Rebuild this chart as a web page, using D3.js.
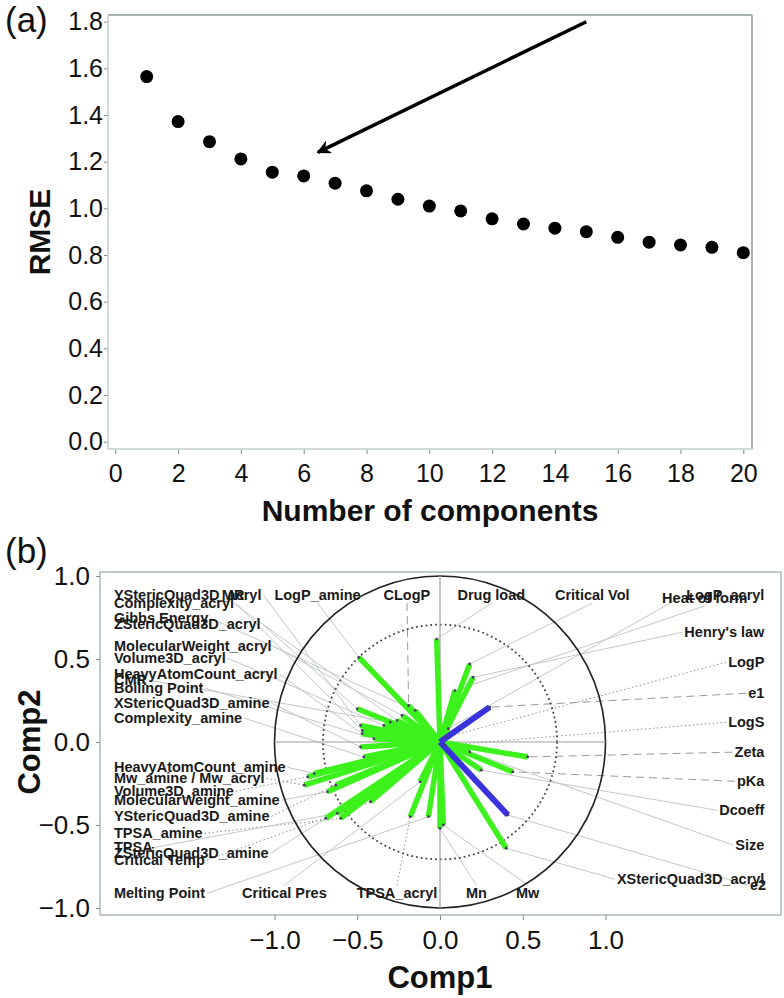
<!DOCTYPE html>
<html>
<head>
<meta charset="utf-8">
<title>RMSE e loadings</title>
<script src="https://d3js.org/d3.v7.min.js"></script>
<style>
  body { margin: 0; background: #fff; }
  text { font-family: "Liberation Sans", Arial, sans-serif; fill: #111; }
</style>
</head>
<body>
<svg id="chart" width="784" height="998"></svg>
<script type="text/javascript">
"use strict"

// ---- (a) RMSE by number of components
var components = d3.range(1, 21);
var rmse = [1.565, 1.372, 1.286, 1.212, 1.155, 1.139, 1.108, 1.075, 1.039, 1.010,
            0.989, 0.955, 0.933, 0.915, 0.900, 0.876, 0.855, 0.843, 0.833, 0.810];
var ticksAx = [0, 2, 4, 6, 8, 10, 12, 14, 16, 18, 20];
var ticksAy = [0, 0.2, 0.4, 0.6, 0.8, 1.0, 1.2, 1.4, 1.6, 1.8];
var arrowFrom = [15, 1.8], arrowTo = [6.45, 1.24];

// ---- (b) loadings plot (Comp1, Comp2)
var variables = ["YStericQuad3D_acryl", "Complexity_acryl", "MR", "LogP_amine", "CLogP",
  "Gibbs Energy", "ZStericQuad3D_acryl", "MolecularWeight_acryl", "Volume3D_acryl",
  "HeavyAtomCount_acryl", "CMR", "Boiling Point", "XStericQuad3D_amine", "Complexity_amine",
  "HeavyAtomCount_amine", "Mw_amine / Mw_acryl", "Volume3D_amine", "MolecularWeight_amine",
  "YStericQuad3D_amine", "TPSA_amine", "TPSA", "ZStericQuad3D_amine", "Critical Temp",
  "Melting Point", "Critical Pres", "TPSA_acryl", "Mn", "Mw", "Drug load", "Critical Vol",
  "Heat of form", "LogP_acryl", "Henry's law", "LogP", "e1", "LogS", "Zeta", "pKa",
  "Dcoeff", "Size", "XStericQuad3D_acryl", "e2"];
var comp1 = [-0.48, -0.47, -0.26, -0.49, -0.19, -0.15, -0.50, -0.23, -0.34, -0.47, -0.30, -0.40,
  -0.48, -0.46, -0.76, -0.82, -0.80, -0.68, -0.63, -0.60, -0.62, -0.69, -0.42, -0.07, -0.12,
  -0.18, 0.00, 0.02, -0.02, 0.18, 0.09, 0.05, 0.20, 0.04, 0.30, 0.03, 0.53, 0.44, 0.25, 0.18,
  0.40, 0.41];
var comp2 = [0.10, 0.07, 0.13, 0.51, 0.22, 0.19, 0.20, 0.16, 0.10, 0.05, 0.12, 0.02, -0.03,
  -0.09, -0.19, -0.26, -0.21, -0.30, -0.26, -0.46, -0.43, -0.46, -0.36, -0.45, -0.24, -0.45,
  -0.52, -0.50, 0.62, 0.47, 0.31, 0.08, 0.39, 0.03, 0.21, -0.02, -0.09, -0.18, -0.17, -0.06,
  -0.64, -0.44];
// label anchors, in Comp1/Comp2 units
var labelX = [-1.97, -1.97, -1.25, -0.74, -0.20, -1.97, -1.97, -1.97, -1.97, -1.97, -1.97, -1.97,
  -1.97, -1.97, -1.97, -1.97, -1.97, -1.97, -1.97, -1.97, -1.97, -1.97, -1.97, -1.97, -0.94,
  -0.26, 0.22, 0.53, 0.31, 0.92, 1.60, 1.96, 1.96, 1.96, 1.96, 1.96, 1.96, 1.96, 1.96, 1.96,
  1.96, 1.97];
var labelY = [0.886, 0.837, 0.886, 0.886, 0.886, 0.747, 0.711, 0.578, 0.506, 0.410, 0.373, 0.325,
  0.235, 0.145, -0.151, -0.217, -0.295, -0.349, -0.446, -0.548, -0.633, -0.669, -0.711, -0.910,
  -0.910, -0.910, -0.910, -0.910, 0.886, 0.886, 0.870, 0.886, 0.663, 0.482, 0.295, 0.120,
  -0.060, -0.235, -0.410, -0.620, -0.825, -0.861];
var responses = ["e1", "e2"];
var dashedLeaders = ["CLogP", "e1", "Zeta", "pKa"];
var dottedLeaders = ["LogP", "LogS", "Mw_amine / Mw_acryl", "Volume3D_amine",
  "YStericQuad3D_amine", "TPSA_amine", "TPSA_acryl", "Critical Temp"];
var ticksB = [-1.0, -0.5, 0.0, 0.5, 1.0];

var svg = d3.select("#chart");
var fmt = d3.format(".1f");

/*
 * painel (a)
 */
var boxA = {left: 108, right: 752, top: 15, bottom: 449};
var xA = d3.scaleLinear().domain([0, 20]).range([115.3, 743.3]);
var yA = d3.scaleLinear().domain([0, 1.8]).range([441.7, 21.7]);

var gA = svg.append("g");

gA.append("line").attr("x1", boxA.left).attr("x2", boxA.right)
    .attr("y1", boxA.top).attr("y2", boxA.top)
    .style("stroke", "#8c9a9a").style("stroke-width", 1.5);
gA.append("line").attr("x1", boxA.right).attr("x2", boxA.right)
    .attr("y1", boxA.top).attr("y2", boxA.bottom)
    .style("stroke", "#8c9a9a").style("stroke-width", 1.5);

var axAy = gA.append("g")
    .attr("transform", "translate(" + boxA.left + ",0)")
    .call(d3.axisLeft(yA).tickValues(ticksAy).tickFormat(fmt).tickSize(4).tickPadding(1));
var axAx = gA.append("g")
    .attr("transform", "translate(0," + boxA.bottom + ")")
    .call(d3.axisBottom(xA).tickValues(ticksAx).tickSize(5).tickPadding(10));
[axAy, axAx].forEach(function(ax) {
  ax.select(".domain").remove();
  ax.selectAll("line").style("stroke", "#7d8c8c");
  ax.selectAll("text").style("font-size", "25px").style("fill", "#111").style("font-family", null);
});
gA.append("line").attr("x1", boxA.left).attr("x2", boxA.left)
    .attr("y1", boxA.top).attr("y2", boxA.bottom)
    .style("stroke", "#c3cfcf").style("stroke-width", 1.5);
gA.append("line").attr("x1", boxA.left).attr("x2", boxA.right)
    .attr("y1", boxA.bottom).attr("y2", boxA.bottom)
    .style("stroke", "#c3cfcf").style("stroke-width", 1.5);

gA.selectAll("circle.pt")
    .data(components)
    .enter()
    .append("circle")
    .attr("class", "pt")
    .attr("cx", d => xA(d))
    .attr("cy", (d, i) => yA(rmse[i]))
    .attr("r", 6.5)
    .style("fill", "#000");

svg.append("defs").append("marker")
    .attr("id", "head")
    .attr("viewBox", "0 0 10 10")
    .attr("refX", 9).attr("refY", 5)
    .attr("markerWidth", 4).attr("markerHeight", 4)
    .attr("orient", "auto")
    .append("path")
    .attr("d", "M0,0 L10,5 L0,10 L3,5 Z")
    .style("fill", "#000");

gA.append("line")
    .attr("x1", xA(arrowFrom[0])).attr("y1", yA(arrowFrom[1]))
    .attr("x2", xA(arrowTo[0])).attr("y2", yA(arrowTo[1]))
    .attr("marker-end", "url(#head)")
    .style("stroke", "#000").style("stroke-width", 3.5);

gA.append("text").attr("x", 5).attr("y", 32).text("(a)").style("font-size", "35px");
gA.append("text")
    .attr("transform", "translate(50,232) rotate(-90)")
    .attr("text-anchor", "middle")
    .style("font-size", "30px").style("font-weight", "bold")
    .text("RMSE");
gA.append("text")
    .attr("x", 430).attr("y", 521)
    .attr("text-anchor", "middle")
    .style("font-size", "30px").style("font-weight", "bold")
    .text("Number of components");

/*
 * painel (b)
 */
var boxB = {left: 100, right: 781, top: 572, bottom: 915};
var xB = d3.scaleLinear().domain([-1, 1]).range([274.5, 605.5]);
var yB = d3.scaleLinear().domain([-1, 1]).range([908, 576]);
var gB = svg.append("g");

gB.append("text").attr("x", 5).attr("y", 563).text("(b)").style("font-size", "35px");

gB.append("rect")
    .attr("x", boxB.left).attr("y", boxB.top)
    .attr("width", boxB.right - boxB.left).attr("height", boxB.bottom - boxB.top)
    .style("fill", "none").style("stroke", "#aebaba").style("stroke-width", 1.5);

var axBy = gB.append("g")
    .attr("transform", "translate(" + boxB.left + ",0)")
    .call(d3.axisLeft(yB).tickValues(ticksB).tickFormat(fmt).tickSize(4).tickPadding(6));
var axBx = gB.append("g")
    .attr("transform", "translate(0," + boxB.bottom + ")")
    .call(d3.axisBottom(xB).tickValues(ticksB).tickFormat(fmt).tickSize(5).tickPadding(11));
[axBy, axBx].forEach(function(ax) {
  ax.select(".domain").remove();
  ax.selectAll("line").style("stroke", "#7d8c8c");
  ax.selectAll("text").style("font-size", "26px").style("fill", "#111").style("font-family", null);
});

gB.append("text")
    .attr("transform", "translate(40,742) rotate(-90)")
    .attr("text-anchor", "middle")
    .style("font-size", "31px").style("font-weight", "bold")
    .text("Comp2");
gB.append("text")
    .attr("x", 440).attr("y", 988)
    .attr("text-anchor", "middle")
    .style("font-size", "31px").style("font-weight", "bold")
    .text("Comp1");

var cx = xB(0), cy = yB(0);
var leaders = gB.append("g");

// unit circle, 50% circle and the axes through the origin
gB.append("ellipse")
    .attr("cx", cx).attr("cy", cy)
    .attr("rx", xB(1) - cx).attr("ry", cy - yB(1))
    .style("fill", "none").style("stroke", "#222").style("stroke-width", 1.6);
gB.append("ellipse")
    .attr("cx", cx).attr("cy", cy)
    .attr("rx", xB(Math.SQRT1_2) - cx).attr("ry", cy - yB(Math.SQRT1_2))
    .style("fill", "none").style("stroke", "#444").style("stroke-width", 1.8)
    .style("stroke-dasharray", "1.8,3");
gB.append("line").attr("x1", xB(-1)).attr("x2", xB(1)).attr("y1", cy).attr("y2", cy)
    .style("stroke", "#a0a0a0").style("stroke-width", 1.2);
gB.append("line").attr("x1", cx).attr("x2", cx).attr("y1", yB(1)).attr("y2", yB(-1))
    .style("stroke", "#a0a0a0").style("stroke-width", 1.2);

var idx = d3.range(variables.length);
var isResp = i => responses.indexOf(variables[i]) >= 0;

// green first, blue on top
var order = idx.filter(i => !isResp(i)).concat(idx.filter(isResp));
gB.selectAll("line.vec")
    .data(order)
    .enter()
    .append("line")
    .attr("class", "vec")
    .attr("x1", cx).attr("y1", cy)
    .attr("x2", i => xB(comp1[i]))
    .attr("y2", i => yB(comp2[i]))
    .style("stroke", i => isResp(i) ? "#3a33dd" : "#3df21c")
    .style("stroke-width", i => isResp(i) ? 6 : 5.5);
gB.selectAll("circle.tip")
    .data(order)
    .enter()
    .append("circle")
    .attr("class", "tip")
    .attr("cx", i => xB(comp1[i]))
    .attr("cy", i => yB(comp2[i]))
    .attr("r", 1.4)
    .style("fill", "#4a3a6a");

var anchorOf = function(i) {
  if (labelX[i] <= -1.9) return "start";
  if (labelX[i] >= 1.9) return "end";
  return "middle";
};
var labels = gB.selectAll("text.lab")
    .data(idx)
    .enter()
    .append("text")
    .attr("class", "lab")
    .attr("x", i => xB(labelX[i]))
    .attr("y", i => yB(labelY[i]))
    .attr("dy", "0.36em")
    .attr("text-anchor", anchorOf)
    .style("font-size", "14.5px")
    .style("font-weight", "bold")
    .style("fill", "#1a1a1a")
    .text(i => variables[i]);

// leader lines from each label to the tip of its vector
labels.each(function(i) {
  var b = this.getBBox();
  var a = anchorOf(i), sx, sy;
  if (a === "start") { sx = b.x + b.width + 2; sy = b.y + b.height / 2; }
  else if (a === "end") { sx = b.x - 2; sy = b.y + b.height / 2; }
  else if (labelY[i] > 0) { sx = b.x + b.width / 2; sy = b.y + b.height; }
  else { sx = b.x + b.width / 2; sy = b.y; }
  var name = variables[i];
  var ln = leaders.append("line")
      .attr("x1", sx).attr("y1", sy)
      .attr("x2", xB(comp1[i])).attr("y2", yB(comp2[i]))
      .style("stroke-width", 1);
  if (dashedLeaders.indexOf(name) >= 0) {
    ln.style("stroke", "#9a9a9a").style("stroke-dasharray", "8,5");
  } else if (dottedLeaders.indexOf(name) >= 0) {
    ln.style("stroke", "#8f8f8f").style("stroke-dasharray", "1.5,2.5");
  } else {
    ln.style("stroke", "#c4c8c8");
  }
});
</script>
</body>
</html>
